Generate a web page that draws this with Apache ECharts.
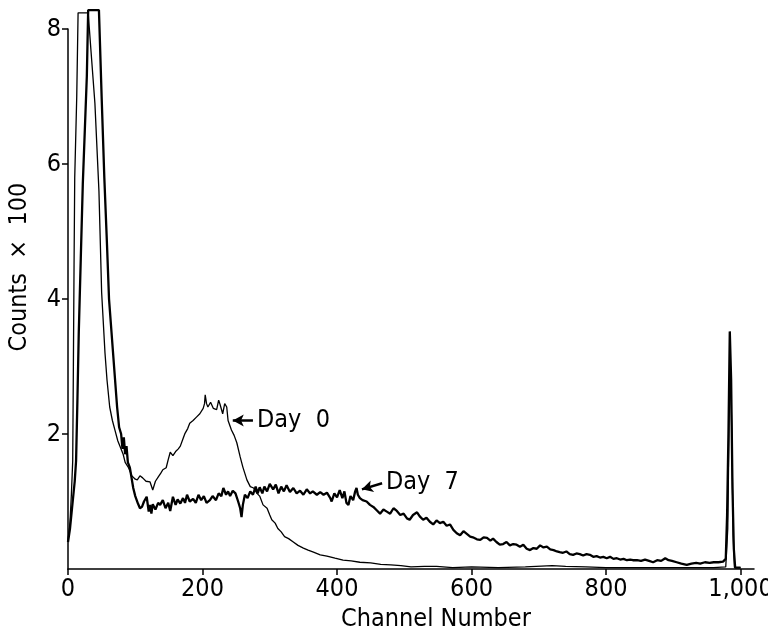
<!DOCTYPE html>
<html>
<head>
<meta charset="utf-8">
<script src="https://cdn.jsdelivr.net/npm/echarts@6/dist/echarts.min.js"></script>
<style>
html,body{margin:0;padding:0;background:#fff;}
#chart{width:768px;height:637px;}
</style>
</head>
<body>
<div id="chart"></div>
<script>
// tick labels
var xTicks = [0, 200, 400, 600, 800, 1000];
var yTicks = [2, 4, 6, 8];

// [channel, counts/100]
var day0 = [[0,0.4],[3,0.7],[5,1.1],[7,1.6],[8,3.0],[9,4.5],[10,5.8],[13,7.0],[15,8.24],[30,8.24],[34,7.7],[40,6.9],[46,5.6],[50,4.1],[55,3.2],[58,2.8],[62,2.4],[66,2.2],[70,2.05],[74,1.9],[78,1.8],[82,1.7],[85,1.58],[90,1.5],[95,1.38],[100,1.33],[103,1.32],[107,1.38],[111,1.35],[116,1.3],[122,1.29],[126,1.17],[130,1.3],[134,1.36],[138,1.42],[141,1.47],[146,1.5],[149,1.62],[152,1.73],[156,1.68],[160,1.74],[164,1.78],[167,1.82],[171,1.93],[174,2.01],[178,2.08],[181,2.16],[186,2.2],[191,2.25],[196,2.3],[201,2.38],[203,2.45],[204,2.58],[206,2.45],[208,2.4],[212,2.47],[216,2.38],[221,2.36],[224,2.5],[226,2.44],[230,2.3],[233,2.45],[236,2.4],[238,2.2],[243,2.06],[247,1.98],[251,1.87],[256,1.66],[260,1.51],[266,1.32],[271,1.22],[276,1.2],[281,1.12],[285,1.08],[290,0.95],[296,0.9],[300,0.8],[303,0.73],[308,0.68],[312,0.6],[317,0.55],[322,0.48],[328,0.45],[335,0.4],[342,0.35],[350,0.31],[357,0.28],[365,0.25],[375,0.21],[385,0.19],[397,0.16],[409,0.13],[421,0.12],[434,0.1],[450,0.09],[465,0.07],[480,0.06],[495,0.05],[510,0.03],[530,0.04],[548,0.04],[572,0.02],[600,0.03],[640,0.02],[680,0.03],[720,0.05],[740,0.04],[770,0.03],[800,0.02],[840,0.02],[880,0.02],[920,0.02],[960,0.02],[978,0.03],[981,0.6],[983,2.2],[985,3.0],[987,2.0],[989,0.5],[991,0.02],[1000,0.02]];

var day7 = [[0,0.4],[3,0.6],[6,0.9],[8,1.1],[10,1.3],[12,1.6],[14,2.5],[16,3.5],[19,4.6],[22,5.7],[25,6.5],[28,7.3],[30,8.28],[46,8.28],[50,7.0],[54,5.8],[58,4.8],[61,4.0],[64,3.6],[67,3.2],[70,2.8],[73,2.4],[76,2.1],[79,2.0],[81,1.78],[83,1.95],[85,1.7],[87,1.82],[89,1.58],[92,1.5],[95,1.32],[97,1.2],[100,1.08],[104,0.97],[107,0.9],[110,0.92],[113,1.0],[117,1.07],[120,0.85],[122,0.95],[124,0.82],[126,0.96],[130,0.88],[134,0.98],[137,0.95],[141,1.02],[145,0.9],[149,0.98],[152,0.86],[156,1.07],[160,0.95],[163,1.03],[167,0.97],[171,1.05],[174,0.98],[177,1.1],[181,1.0],[186,1.04],[190,0.98],[194,1.1],[198,1.02],[202,1.08],[206,0.98],[211,1.02],[215,1.08],[220,1.02],[224,1.12],[228,1.08],[231,1.2],[235,1.1],[238,1.15],[241,1.08],[245,1.16],[249,1.12],[253,1.0],[256,0.9],[258,0.77],[260,0.95],[263,1.1],[267,1.05],[271,1.15],[275,1.1],[279,1.22],[282,1.12],[285,1.21],[289,1.12],[292,1.22],[296,1.15],[300,1.26],[305,1.18],[309,1.25],[313,1.12],[317,1.22],[321,1.15],[325,1.24],[330,1.14],[335,1.2],[340,1.12],[345,1.16],[350,1.1],[355,1.18],[360,1.12],[364,1.15],[370,1.1],[375,1.14],[380,1.1],[385,1.13],[390,1.05],[392,1.0],[396,1.12],[400,1.06],[404,1.17],[408,1.05],[411,1.15],[414,0.98],[417,0.95],[420,1.08],[424,1.02],[427,1.15],[429,1.2],[431,1.1],[434,1.05],[438,1.02],[444,1.0],[449,0.95],[454,0.92],[459,0.87],[464,0.82],[469,0.88],[474,0.85],[479,0.82],[484,0.9],[489,0.86],[494,0.8],[499,0.82],[504,0.75],[508,0.73],[513,0.8],[519,0.84],[523,0.78],[528,0.73],[533,0.76],[538,0.7],[543,0.66],[548,0.72],[553,0.68],[558,0.7],[563,0.64],[568,0.66],[573,0.58],[578,0.53],[583,0.5],[588,0.56],[593,0.52],[598,0.48],[602,0.47],[608,0.44],[613,0.43],[618,0.47],[623,0.46],[628,0.42],[632,0.45],[637,0.4],[642,0.36],[647,0.37],[652,0.4],[657,0.35],[662,0.37],[667,0.36],[672,0.33],[677,0.36],[682,0.3],[687,0.28],[692,0.31],[697,0.3],[702,0.35],[707,0.32],[712,0.33],[717,0.29],[722,0.28],[727,0.26],[731,0.25],[736,0.24],[741,0.26],[746,0.22],[751,0.21],[756,0.23],[761,0.22],[766,0.2],[771,0.22],[776,0.21],[781,0.18],[786,0.19],[791,0.17],[796,0.18],[801,0.16],[806,0.18],[811,0.15],[816,0.16],[821,0.14],[826,0.15],[831,0.13],[836,0.14],[840,0.13],[846,0.13],[852,0.12],[858,0.14],[864,0.12],[870,0.1],[876,0.13],[882,0.12],[888,0.16],[893,0.13],[898,0.12],[905,0.1],[912,0.08],[920,0.06],[927,0.08],[934,0.09],[940,0.08],[947,0.1],[954,0.09],[960,0.1],[967,0.1],[974,0.11],[978,0.15],[980,0.8],[982,2.0],[984,3.52],[986,2.8],[988,1.2],[990,0.3],[992,0.02],[1000,0.02]];

// arrow tip and tail of the two labels
var day0Arrow = [[245, 2.2], [275, 2.2]];
var day7Arrow = [[437, 1.18], [467, 1.27]];

var font = '"Liberation Sans Narrow","DejaVu Sans Condensed","Roboto",sans-serif';
var fs = 25;

function arrowLabel(pts, text) {
	return {
		silent: true,
		symbol: ['arrow', 'none'],
		symbolSize: [9, 11],
		lineStyle: {color:'#000', width:2.5, type:'solid'},
		label: {show:true, position:'end', distance:4, formatter:text, color:'#000', fontSize:fs, fontFamily:font},
		data: [[{coord: pts[0]}, {coord: pts[1]}]]
	};
}

var chart = echarts.init(document.getElementById('chart'));
chart.setOption({
	animation: false,
	backgroundColor: '#fff',
	grid: {left:68, right:14, top:29, bottom:68, outerBoundsMode:'none', containLabel:false},
	xAxis: {
		type: 'value', min: 0, max: 1020,
		name: 'Channel Number', nameLocation: 'middle', nameGap: 38,
		nameTextStyle: {color:'#000', fontSize:fs, fontFamily:font, padding:[0,0,0,50]},
		axisLine: {lineStyle: {color:'#000', width:1.5}},
		axisTick: {customValues: xTicks, length: 6, lineStyle: {color:'#000', width:1.5}},
		axisLabel: {customValues: xTicks, margin: 8, color:'#000', fontSize:fs, fontFamily:font,
			formatter: function(v) { return v == 1000 ? '1,000' : '' + v; }},
		splitLine: {show: false}
	},
	yAxis: {
		type: 'value', min: 0, max: 8, interval: 2,
		name: 'Counts  \u00d7  100', nameLocation: 'middle', nameGap: 36, nameRotate: 90,
		nameTextStyle: {color:'#000', fontSize:fs, fontFamily:font, padding:[0,0,0,64]},
		axisLine: {show: true, lineStyle: {color:'#000', width:1.5}},
		axisTick: {show: true, customValues: yTicks, length: 6, lineStyle: {color:'#000', width:1.5}},
		axisLabel: {customValues: yTicks, margin: 7, color:'#000', fontSize:fs, fontFamily:font},
		splitLine: {show: false}
	},
	series: [{
		name: 'Day 0', type: 'line', data: day0, symbol: 'none', clip: false,
		lineStyle: {color:'#000', width:1.3},
		markLine: arrowLabel(day0Arrow, 'Day  0')
	}, {
		name: 'Day 7', type: 'line', data: day7, symbol: 'none', clip: false,
		lineStyle: {color:'#000', width:2.3},
		markLine: arrowLabel(day7Arrow, 'Day  7')
	}]
});
</script>
</body>
</html>
